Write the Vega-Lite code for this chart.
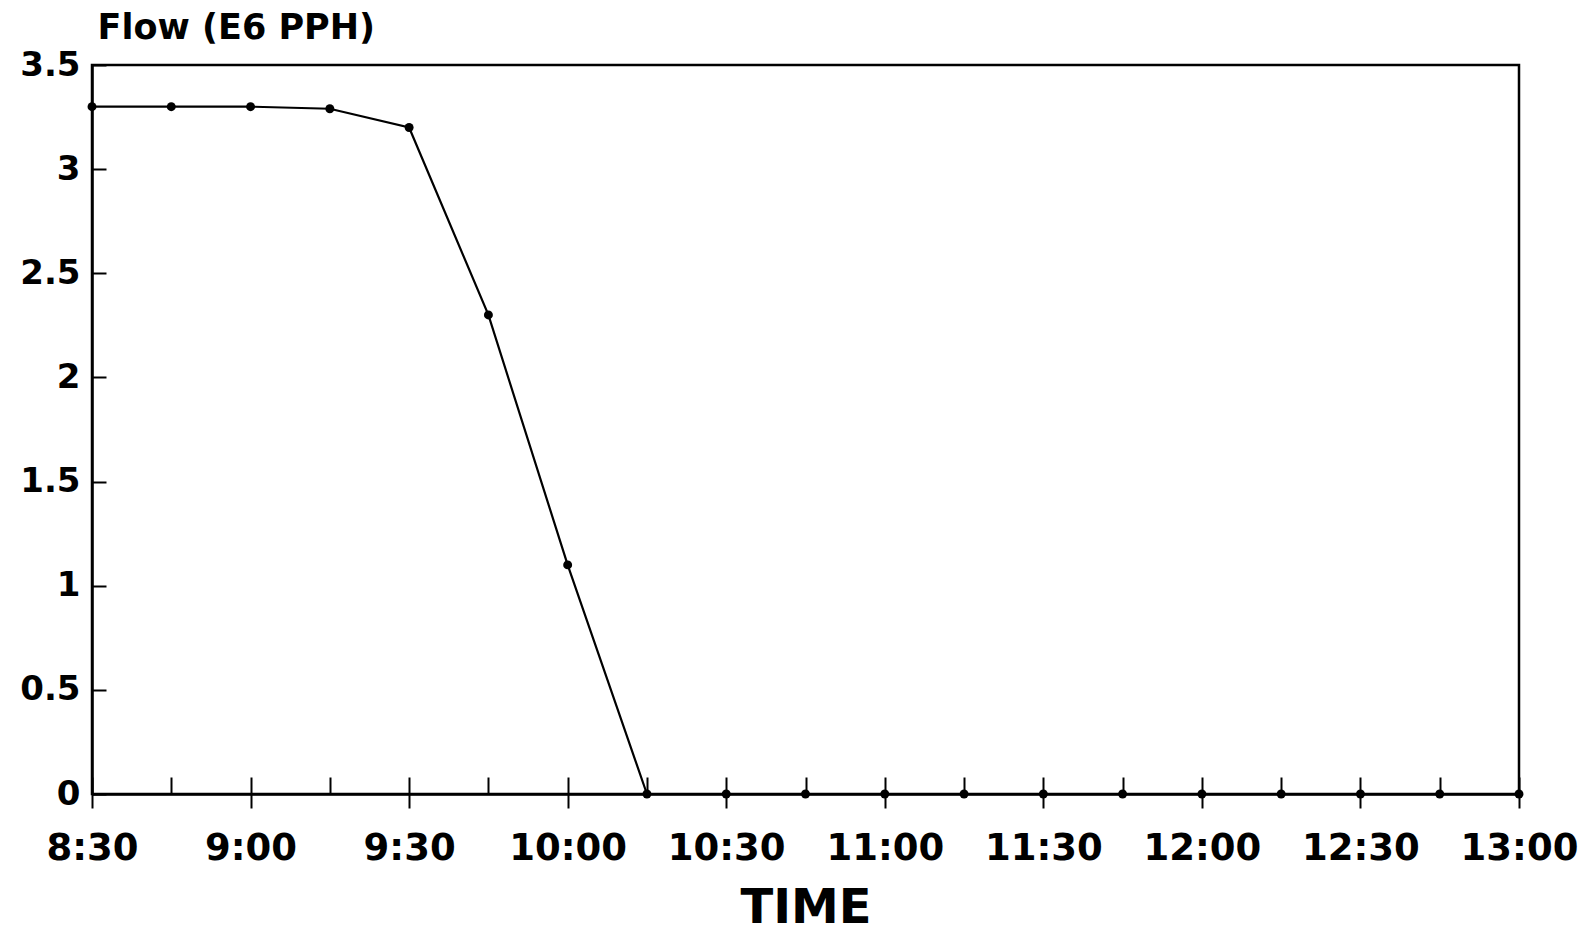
{
  "$schema": "https://vega.github.io/schema/vega-lite/v6.json",
  "width": 1427,
  "height": 729,
  "autosize": {"type": "none"},
  "padding": {"left": 92, "top": 65, "right": 66, "bottom": 138},
  "background": "white",
  "config": {
    "font": "DejaVu Sans",
    "view": {"stroke": "black", "strokeWidth": 2.5}
  },
  "data": {
    "values": [
      {"time": "8:30", "hour": 8.5, "flow": 3.3},
      {"time": "8:45", "hour": 8.75, "flow": 3.3},
      {"time": "9:00", "hour": 9.0, "flow": 3.3},
      {"time": "9:15", "hour": 9.25, "flow": 3.29},
      {"time": "9:30", "hour": 9.5, "flow": 3.2},
      {"time": "9:45", "hour": 9.75, "flow": 2.3},
      {"time": "10:00", "hour": 10.0, "flow": 1.1},
      {"time": "10:15", "hour": 10.25, "flow": 0},
      {"time": "10:30", "hour": 10.5, "flow": 0},
      {"time": "10:45", "hour": 10.75, "flow": 0},
      {"time": "11:00", "hour": 11.0, "flow": 0},
      {"time": "11:15", "hour": 11.25, "flow": 0},
      {"time": "11:30", "hour": 11.5, "flow": 0},
      {"time": "11:45", "hour": 11.75, "flow": 0},
      {"time": "12:00", "hour": 12.0, "flow": 0},
      {"time": "12:15", "hour": 12.25, "flow": 0},
      {"time": "12:30", "hour": 12.5, "flow": 0},
      {"time": "12:45", "hour": 12.75, "flow": 0},
      {"time": "13:00", "hour": 13.0, "flow": 0}
    ]
  },
  "resolve": {"axis": {"x": "independent"}},
  "layer": [
    {
      "mark": {"type": "line", "color": "black", "strokeWidth": 2.2},
      "encoding": {
        "x": {
          "field": "hour",
          "type": "quantitative",
          "scale": {"domain": [8.5, 13], "nice": false, "zero": false},
          "axis": {
            "orient": "bottom",
            "title": "TIME",
            "grid": false,
            "values": [8.5, 8.75, 9, 9.25, 9.5, 9.75, 10, 10.25, 10.5, 10.75, 11, 11.25, 11.5, 11.75, 12, 12.25, 12.5, 12.75, 13],
            "labelExpr": "(datum.value * 4) % 2 === 0 ? (floor(datum.value) + ':' + ((datum.value % 1) === 0 ? '00' : '30')) : ''",
            "labelFont": "DejaVu Sans",
            "labelFontSize": 37,
            "labelFontWeight": "bold",
            "labelColor": "black",
            "labelPadding": 53,
            "labelOverlap": false,
            "labelFlush": false,
            "tickSize": -17,
            "tickColor": "black",
            "tickWidth": 2,
            "domainColor": "black",
            "domainWidth": 2.5,
            "titleFont": "DejaVu Sans",
            "titleFontSize": 48,
            "titleFontWeight": "bold",
            "titleColor": "black",
            "titlePadding": 18
          }
        },
        "y": {
          "field": "flow",
          "type": "quantitative",
          "scale": {"domain": [0, 3.5], "nice": false},
          "axis": {
            "values": [0, 0.5, 1, 1.5, 2, 2.5, 3, 3.5],
            "labelExpr": "'' + datum.value",
            "grid": false,
            "labelFont": "DejaVu Sans",
            "labelFontSize": 34,
            "labelFontWeight": "bold",
            "labelColor": "black",
            "labelPadding": 26,
            "tickSize": -14,
            "tickColor": "black",
            "tickWidth": 2,
            "domainColor": "black",
            "domainWidth": 2.5,
            "title": "Flow (E6 PPH)",
            "titleFont": "DejaVu Sans",
            "titleFontSize": 35,
            "titleFontWeight": "bold",
            "titleColor": "black",
            "titleAngle": 0,
            "titleAlign": "left",
            "titleX": 5,
            "titleY": -20
          }
        }
      }
    },
    {
      "mark": {"type": "point", "shape": "circle", "filled": true, "color": "black", "size": 80, "opacity": 1},
      "encoding": {
        "x": {
          "field": "hour",
          "type": "quantitative",
          "axis": {
            "orient": "bottom",
            "title": null,
            "grid": false,
            "domain": false,
            "labels": false,
            "values": [8.5, 9, 9.5, 10, 10.5, 11, 11.5, 12, 12.5, 13],
            "tickSize": 14,
            "tickColor": "black",
            "tickWidth": 2
          }
        },
        "y": {"field": "flow", "type": "quantitative"}
      }
    }
  ]
}
